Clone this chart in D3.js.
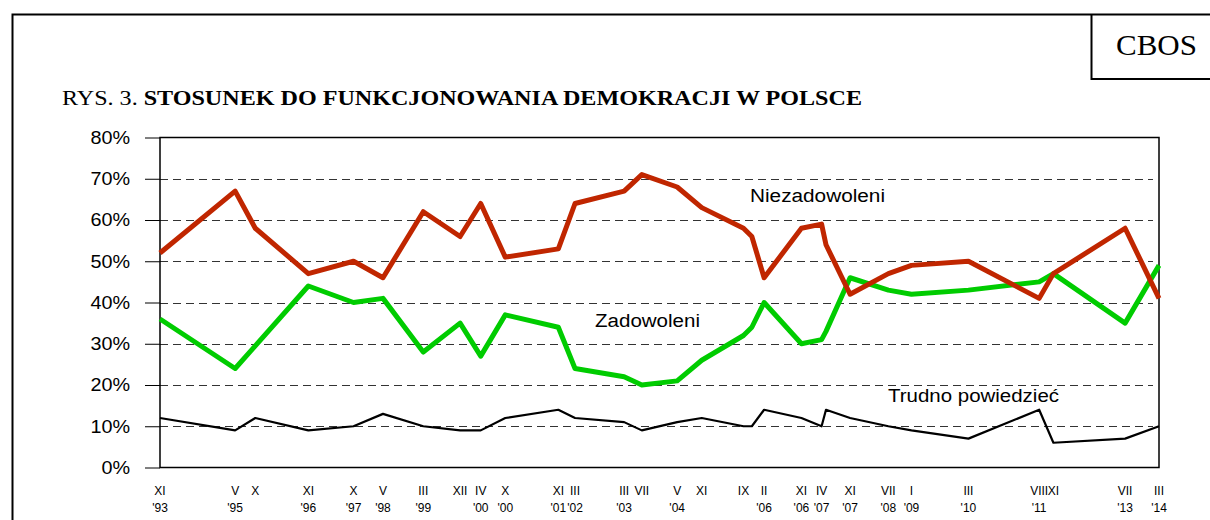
<!DOCTYPE html>
<html><head><meta charset="utf-8">
<script src="https://cdn.jsdelivr.net/npm/d3@7"></script>
<style>body{margin:0;background:#fff} svg{display:block}</style>
</head><body>
<svg id="chart" width="1210" height="520"></svg>
<script>
// survey time (decimal year, read from the horizontal position of each point)
const when = [1993.83,1995.36,1995.77,1996.85,1997.77,1998.37,1999.19,1999.94,2000.36,2000.86,
              2001.94,2002.28,2003.28,2003.64,2004.36,2004.86,2005.71,2005.88,2006.13,2006.89,
              2007.30,2007.39,2007.88,2008.66,2009.13,2010.29,2011.73,2012.02,2013.48,2014.17];
const monthLabels = ["XI","V","X","XI","X","V","III","XII","IV","X","XI","III","III","VII","V","XI","IX","","II","XI","IV","","XI","VII","I","III","VIII","XI","VII","III"];
const yearLabels  = ["'93","'95","","'96","'97","'98","'99","","'00","'00","'01","'02","'03","","'04","","","","'06","'06","'07","","'07","'08","'09","'10","'11","","'13","'14"];
const niezadowoleni = [52,67,58,47,50,46,62,56,64,51,53,64,67,71,68,63,58,56,46,58,59,54,42,47,49,50,41,47,58,41];
const zadowoleni    = [36,24,29.5,44,40,41,28,35,27,37,34,24,22,20,21,26,32,34,40,30,31,33,46,43,42,43,45,47,35,49];
const trudno        = [12,9,12,9,10,13,10,9,9,12,14,12,11,9,11,12,10,10,14,12,10,14,12,10,9,7,14,6,7,10];
const yTicks = [0,10,20,30,40,50,60,70,80];
const seriesNames = ["Niezadowoleni","Zadowoleni","Trudno powiedzieć"];

const svg = d3.select("#chart");
const L = 160, R = 1159, T = 137.5, B = 467.5;
const x = d3.scaleLinear().domain([when[0], when[when.length-1]]).range([L, R]);
const y = d3.scaleLinear().domain([0, 80]).range([B, T]);
const sans = "Arial, 'Liberation Sans', sans-serif";
const serif = "'Times New Roman', 'Liberation Serif', serif";

// outer frame
svg.append("path").attr("d", `M12.5,520 V14.5 H1210`).attr("fill","none").attr("stroke","#000").attr("stroke-width",2);
svg.append("path").attr("d", `M1091.5,14.5 V79 H1210`).attr("fill","none").attr("stroke","#000").attr("stroke-width",2);
svg.append("text").attr("x",1116).attr("y",55).attr("font-family",serif).attr("font-size",30)
  .attr("textLength",81).attr("lengthAdjust","spacingAndGlyphs").text("CBOS");

// title
const title = svg.append("text").attr("x",62).attr("y",105).attr("font-family",serif).attr("font-size",20)
  .attr("textLength",800).attr("lengthAdjust","spacingAndGlyphs");
title.append("tspan").text("RYS. 3. ");
title.append("tspan").attr("font-weight","bold").text("STOSUNEK DO FUNKCJONOWANIA DEMOKRACJI W POLSCE");

// gridlines
svg.append("g").selectAll("line").data(yTicks.filter(d => d > 0 && d < 80)).join("line")
  .attr("x1", L).attr("x2", R - 6).attr("y1", d => Math.round(y(d)) + 0.5).attr("y2", d => Math.round(y(d)) + 0.5)
  .attr("stroke","#333").attr("stroke-width",1).attr("stroke-dasharray","8,5");

// y axis
const ay = svg.append("g").attr("transform",`translate(${L},0)`)
  .call(d3.axisLeft(y).tickValues(yTicks).tickSize(15).tickPadding(15).tickFormat(d => d + "%"));
ay.select(".domain").remove();
ay.selectAll(".tick line").attr("stroke","#000");
ay.selectAll(".tick text").attr("font-family",sans).attr("font-size",18).attr("fill","#000")
  .attr("x", -30/1.1).attr("transform","scale(1.1,1)");

// plot border
svg.append("rect").attr("x",L).attr("y",T).attr("width",R-L).attr("height",B-T)
  .attr("fill","none").attr("stroke","#000").attr("stroke-width",1.5);

// x labels
const xl = svg.append("g").attr("font-family",sans).attr("font-size",12).attr("text-anchor","middle");
xl.selectAll("text.m").data(when).join("text").attr("class","m")
  .attr("x",(d)=>x(d)).attr("y",495).text((d,i)=>monthLabels[i]);
xl.selectAll("text.yr").data(when).join("text").attr("class","yr")
  .attr("x",(d)=>x(d)).attr("y",512).text((d,i)=>yearLabels[i]);

// lines
const line = vals => d3.line().x((d,i)=>x(when[i])).y(d=>y(d))(vals);
svg.append("path").attr("d", line(trudno)).attr("fill","none").attr("stroke","#000").attr("stroke-width",2.2).attr("stroke-linejoin","round");
svg.append("path").attr("d", line(zadowoleni)).attr("fill","none").attr("stroke","#00cc00").attr("stroke-width",5).attr("stroke-linejoin","round");
svg.append("path").attr("d", line(niezadowoleni)).attr("fill","none").attr("stroke","#c02600").attr("stroke-width",5).attr("stroke-linejoin","round");

// series labels
const lab = [[750,202,135],[595,326.5,105],[888,402,171]];
svg.append("g").selectAll("text").data(seriesNames).join("text")
  .attr("x",(d,i)=>lab[i][0]).attr("y",(d,i)=>lab[i][1]).attr("textLength",(d,i)=>lab[i][2])
  .attr("lengthAdjust","spacingAndGlyphs").attr("font-family",sans).attr("font-size",18).text(d=>d);
</script>
</body></html>
